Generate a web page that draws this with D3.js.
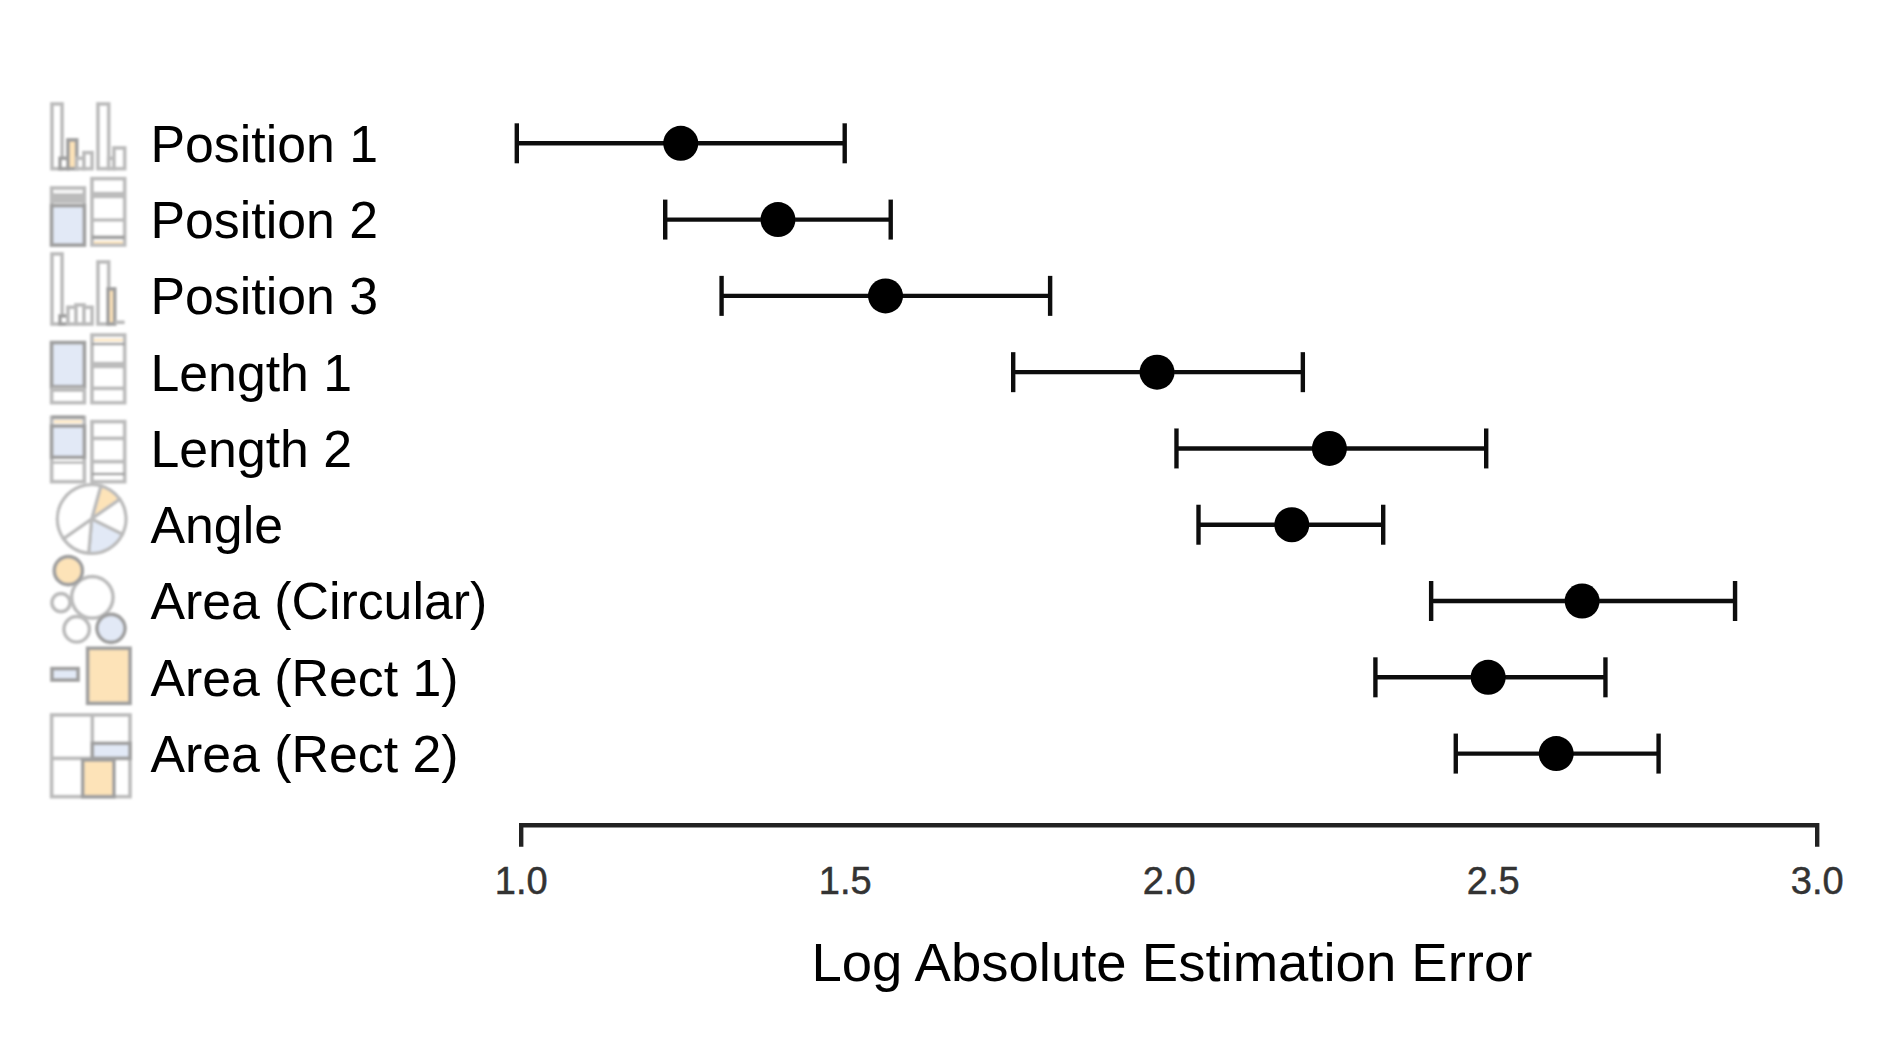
<!DOCTYPE html>
<html>
<head>
<meta charset="utf-8">
<title>Log Absolute Estimation Error</title>
<script src="https://cdn.jsdelivr.net/npm/d3@7"></script>
<style>
  html, body { margin: 0; padding: 0; background: #fff; }
  svg { display: block; }
  text { font-family: "Liberation Sans", Arial, sans-serif; }
</style>
</head>
<body>
<svg id="chart" width="1890" height="1042"></svg>
<script>
const categories = ["Position 1", "Position 2", "Position 3", "Length 1", "Length 2", "Angle", "Area (Circular)", "Area (Rect 1)", "Area (Rect 2)"];
const means = [1.247, 1.397, 1.563, 1.982, 2.248, 2.19, 2.638, 2.493, 2.598];
const lower = [0.994, 1.223, 1.31, 1.76, 2.012, 2.046, 2.405, 2.319, 2.443];
const upper = [1.5, 1.571, 1.817, 2.207, 2.49, 2.331, 2.874, 2.674, 2.756];
const xTicks = [1.0, 1.5, 2.0, 2.5, 3.0];
const xLabel = "Log Absolute Estimation Error";
const angleSlices = [39.5, 61.5, 68.5, 50, 140.5];

const svg = d3.select("#chart");
const defs = svg.append("defs");
defs.append("filter").attr("id", "soft").append("feGaussianBlur").attr("stdDeviation", 0.7);
defs.append("filter").attr("id", "softer").append("feGaussianBlur").attr("stdDeviation", 1.1);

const x = d3.scaleLinear().domain([1, 3]).range([520.7, 1816.7]);
const y = d3.scalePoint().domain(categories).range([143.3, 753.6]);

// error bars
const marks = svg.append("g").attr("filter", "url(#soft)");
const rows = marks.selectAll("g")
  .data(categories)
  .join("g")
  .attr("transform", d => "translate(0," + y(d) + ")");

rows.append("line")
  .attr("x1", (d, i) => x(lower[i]))
  .attr("x2", (d, i) => x(upper[i]))
  .attr("stroke", "#111")
  .attr("stroke-width", 4.4);

[lower, upper].forEach(arr => {
  rows.append("line")
    .attr("x1", (d, i) => x(arr[i]))
    .attr("x2", (d, i) => x(arr[i]))
    .attr("y1", -20)
    .attr("y2", 20)
    .attr("stroke", "#111")
    .attr("stroke-width", 4.4);
});

rows.append("circle")
  .attr("cx", (d, i) => x(means[i]))
  .attr("r", 17.5)
  .attr("fill", "#000");

// row labels
svg.append("g").selectAll("text")
  .data(categories)
  .join("text")
  .attr("x", 150.5)
  .attr("y", d => y(d) + 18.4)
  .attr("font-size", 51.8)
  .attr("fill", "#000")
  .text(d => d);

// x axis
const axis = svg.append("g")
  .attr("transform", "translate(0,824.8)")
  .call(d3.axisBottom(x).tickValues(xTicks).tickSize(22).tickPadding(20).tickFormat(d3.format(".1f")));
axis.select(".domain").attr("stroke", "#222").attr("stroke-width", 4.4).attr("filter", "url(#soft)");
axis.selectAll(".tick line").attr("stroke", "#222").attr("stroke-width", 4.4).attr("filter", "url(#soft)");
axis.selectAll(".tick text")
  .attr("font-size", 38)
  .attr("font-family", "Liberation Sans")
  .attr("fill", "#333")
  .attr("stroke", "#333")
  .attr("stroke-width", 0.5);

svg.append("text")
  .attr("x", 1172)
  .attr("y", 980.5)
  .attr("text-anchor", "middle")
  .attr("font-size", 54.5)
  .attr("fill", "#000")
  .text(xLabel);

// little glyphs at the left of each row, drawn at 3x and scaled down
const orange = "#fde3b8", blue = "#e2e9f6", edge = "#bcbcbc", dark = "#a0a0a0";
const glyphs = svg.append("g").attr("filter", "url(#softer)");

function panel(ox, oy) {
  const g = glyphs.append("g")
    .attr("transform", "translate(" + ox + "," + oy + ") scale(0.3333)")
    .attr("fill", "none")
    .attr("stroke-width", 11);
  g.box = (x0, y0, x1, y1, fill, stroke) => g.append("rect")
    .attr("x", x0).attr("y", y0).attr("width", x1 - x0).attr("height", y1 - y0)
    .attr("fill", fill || "#fff").attr("stroke", stroke || edge);
  g.rule = (x0, y0, x1, y1, stroke, w) => g.append("line")
    .attr("x1", x0).attr("y1", y0).attr("x2", x1).attr("y2", y1)
    .attr("stroke", stroke || edge).attr("stroke-width", w || 11);
  g.disc = (cx, cy, r, fill, stroke) => g.append("circle")
    .attr("cx", cx).attr("cy", cy).attr("r", r)
    .attr("fill", fill || "#fff").attr("stroke", stroke || edge);
  return g;
}

const upperIcons = panel(30, 90);
// Position 1
upperIcons.box(66, 42, 96, 236);
upperIcons.box(90, 205, 114, 236, "#fff", dark);
upperIcons.box(114, 150, 140, 236, orange, dark);
upperIcons.box(140, 205, 162, 236);
upperIcons.box(162, 188, 186, 236);
upperIcons.box(204, 42, 236, 236);
upperIcons.box(236, 205, 252, 236);
upperIcons.box(252, 174, 284, 236);
// Position 2
upperIcons.box(65, 294, 163, 465);
upperIcons.rule(65, 325, 163, 325, edge, 30);
upperIcons.rule(75, 302, 153, 302, "#eee", 5);
upperIcons.box(65, 347, 163, 465, blue, dark);
upperIcons.box(186, 266, 284, 465);
upperIcons.rule(186, 315, 284, 315, edge, 20);
upperIcons.rule(186, 390, 284, 390, edge, 11);
upperIcons.rule(186, 442, 284, 442, dark, 11);
upperIcons.rule(192, 457, 278, 457, orange, 7);
// Position 3
upperIcons.box(66, 492, 96, 702);
upperIcons.box(90, 678, 114, 702, "#fff", dark);
upperIcons.box(114, 652, 138, 702);
upperIcons.box(138, 645, 162, 702);
upperIcons.box(162, 652, 186, 702);
upperIcons.box(204, 516, 236, 702);
upperIcons.box(234, 597, 254, 702, orange, dark);
upperIcons.rule(254, 697, 284, 697, edge, 11);

const midIcons = panel(30, 340);
// Length 1
midIcons.box(186, -15, 284, 188);
midIcons.rule(192, 0, 278, 0, orange, 7);
midIcons.rule(186, 12, 284, 12, dark, 8);
midIcons.box(65, 8, 163, 188);
midIcons.box(65, 8, 163, 140, blue, dark);
midIcons.rule(65, 148, 163, 148, edge, 16);
midIcons.rule(186, 75, 284, 75, edge, 20);
midIcons.rule(186, 145, 284, 145, edge, 11);
// Length 2
midIcons.box(65, 232, 163, 425);
midIcons.box(65, 258, 163, 352, blue, dark);
midIcons.rule(72, 245, 156, 245, orange, 7);
midIcons.rule(65, 232, 163, 232, dark, 11);
midIcons.rule(65, 368, 163, 368, edge, 8);
midIcons.box(186, 245, 284, 425);
midIcons.rule(186, 295, 284, 295, edge, 11);
midIcons.rule(186, 365, 284, 365, edge, 11);
midIcons.rule(186, 402, 284, 402, dark, 8);

// Angle, a pie with two coloured slices
const slices = d3.pie().sort(null).startAngle(0.27).endAngle(0.27 + 2 * Math.PI)(angleSlices);
const sliceArc = d3.arc().innerRadius(0).outerRadius(103);
const angleColours = [orange, "#fff", blue, "#fff", "#fff"];
midIcons.append("g")
  .attr("transform", "translate(185,537)")
  .selectAll("path")
  .data(slices)
  .join("path")
  .attr("d", sliceArc)
  .attr("fill", (d, i) => angleColours[i])
  .attr("stroke", edge)
  .attr("stroke-width", 10);

const lowerIcons = panel(30, 540);
// Area (Circular)
lowerIcons.disc(187, 172, 62);
lowerIcons.disc(115, 92, 42, orange, dark);
lowerIcons.disc(93, 188, 27);
lowerIcons.disc(140, 268, 38);
lowerIcons.disc(243, 265, 42, blue, dark);
// Area (Rect 1)
lowerIcons.box(66, 386, 144, 420, blue, dark);
lowerIcons.box(173, 325, 300, 490, orange, dark);
// Area (Rect 2)
lowerIcons.box(65, 525, 300, 770);
lowerIcons.rule(187, 525, 187, 655);
lowerIcons.rule(65, 655, 300, 655);
lowerIcons.box(187, 610, 300, 655, blue, dark);
lowerIcons.box(158, 660, 252, 770, orange, dark);
</script>
</body>
</html>
